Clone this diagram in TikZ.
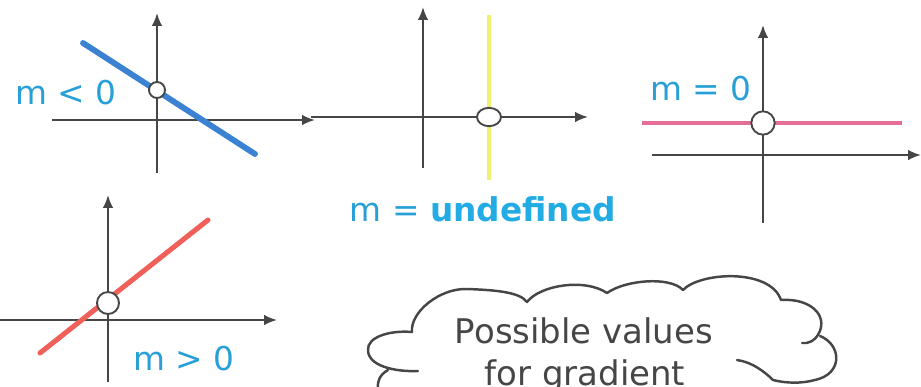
\documentclass[tikz,border=0pt]{standalone}
\usepackage{fontspec}
\setmainfont{DejaVu Sans}
\usepackage{xcolor}
\usepackage{tikz}
\usetikzlibrary{arrows.meta,shapes.geometric}

\definecolor{axisgrey}{RGB}{70,70,70}
\definecolor{labelcyan}{RGB}{40,160,215}
\definecolor{undefcyan}{RGB}{35,172,228}
\definecolor{negblue}{RGB}{60,130,210}
\definecolor{posred}{RGB}{240,95,90}
\definecolor{zeropink}{RGB}{228,110,150}
\definecolor{undefyellow}{RGB}{240,240,115}

\begin{document}
\begin{tikzpicture}[
    x=0.03cm, y=-0.03cm,
    axis/.style={draw=axisgrey, line width=1.7pt, -{Latex[length=11pt,width=9pt]}},
    dot/.style={circle, draw=axisgrey, line width=1.6pt, fill=white, inner sep=0pt},
    lbl/.style={anchor=base, text=labelcyan, font=\fontsize{28}{34}\selectfont},
    cloudline/.style={draw=axisgrey, line width=2.1pt, line cap=round, line join=round}
]
\clip (0,0) rectangle (921,386);

% Negative gradient
\draw[axis] (52,120) -- (315,120);
\draw[axis] (157,173) -- (157,13);
\draw[negblue, line width=5pt, line cap=round] (83,43) -- (255,154);
\node[dot, minimum size=0.48cm] (neg) at (157,90) {};
\node[lbl] (neglbl) at (66,104) {m < 0};

% Undefined gradient
\draw[axis] (311,117) -- (588,117);
\draw[axis] (423,168) -- (423,7);
\draw[undefyellow, line width=3.4pt] (489,15) -- (489,180);
\node[dot, ellipse, minimum width=0.72cm, minimum height=0.55cm] (undef) at (489,117) {};
\node[lbl] (undeflbl) at (483,221) {m = \textcolor{undefcyan}{\bfseries undefined}};

% Zero gradient
\draw[axis] (652,155) -- (921,155);
\draw[axis] (763,223) -- (763,25);
\draw[zeropink, line width=3.4pt] (642,123) -- (902,123);
\node[dot, minimum size=0.7cm] (zero) at (763,123) {};
\node[lbl] (zerolbl) at (701,100) {m = 0};

% Positive gradient
\draw[axis] (0,320) -- (277,320);
\draw[axis] (108,382) -- (108,195);
\draw[posred, line width=4.3pt, line cap=round] (40,353) -- (208,220);
\node[dot, minimum size=0.66cm] (pos) at (108,303) {};
\node[lbl] (poslbl) at (184,370) {m > 0};

% Cloud
\draw[cloudline] (418,371) .. controls (395,372) and (368,366) .. (368,350)
    .. controls (367,337) and (390,330) .. (412,332)
    .. controls (410,312) and (440,288) .. (467,289)
    .. controls (495,290) and (520,292) .. (527,302)
    .. controls (540,285) and (585,278) .. (607,293)
    .. controls (625,280) and (670,276) .. (683,290)
    .. controls (700,272) and (770,268) .. (781,300)
    .. controls (810,298) and (828,315) .. (819,333)
    .. controls (815,341) and (808,344) .. (802,343);
\draw[cloudline] (820,336) .. controls (842,345) and (843,374) .. (815,380)
    .. controls (800,384) and (785,383) .. (773,380)
    .. controls (765,372) and (752,362) .. (737,360);
\draw[cloudline] (388,370) .. controls (379,375) and (377,382) .. (378,392);
\node[anchor=base, text=axisgrey, font=\fontsize{29}{34}\selectfont] (cloudtop) at (584,343) {Possible values};
\node[anchor=base, text=axisgrey, font=\fontsize{29}{34}\selectfont] (cloudbot) at (585,385) {for gradient};
\end{tikzpicture}
\end{document}
